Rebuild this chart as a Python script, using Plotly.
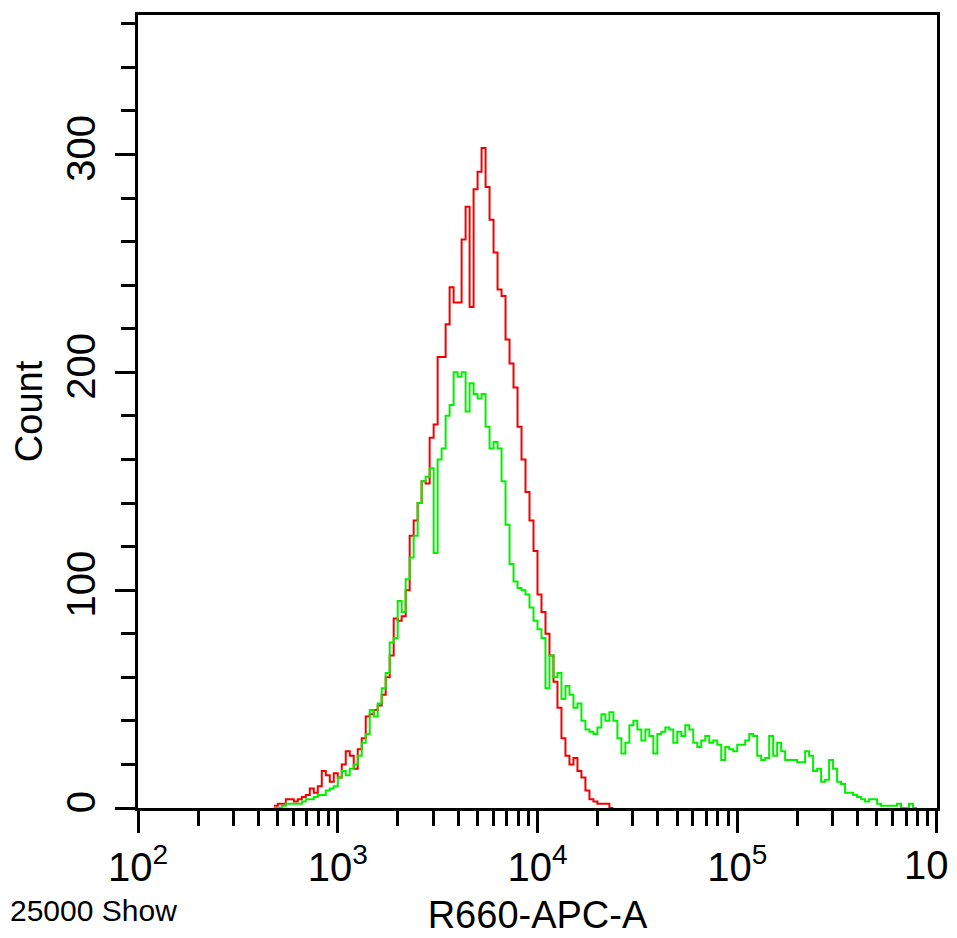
import numpy as np
import plotly.graph_objects as go

# Histogram bins: log10(intensity) of first bin's left edge, and bin width (decades)
bin_start_log = 2.68
bin_width_log = 0.02

red_counts = [1, 2, 2, 4, 4, 3, 4, 5, 6, 9, 7, 10, 17, 15, 12, 16, 14, 20, 26, 24,
              18, 27, 32, 42, 43, 45, 47, 52, 60, 70, 87, 86, 88, 100, 125, 132, 140, 150, 149, 170,
              176, 207, 207, 222, 239, 232, 232, 261, 276, 230, 284, 292, 303, 285, 270, 255, 238, 235, 215, 204,
              193, 175, 160, 145, 132, 118, 98, 90, 80, 70, 58, 46, 32, 24, 20, 23, 17, 14, 8, 4,
              3, 2, 2, 2, 0]

green_counts = [0, 0, 1, 2, 2, 2, 2, 3, 4, 4, 5, 6, 6, 8, 9, 10, 14, 17, 15, 18,
                20, 24, 30, 34, 45, 42, 48, 55, 62, 76, 78, 95, 90, 105, 115, 125, 140, 150, 152, 156,
                117, 160, 165, 180, 185, 200, 198, 200, 182, 195, 190, 188, 190, 175, 165, 168, 165, 150, 130, 112,
                104, 101, 100, 98, 92, 86, 82, 78, 55, 70, 60, 62, 50, 56, 52, 46, 48, 40, 36, 35,
                34, 37, 43, 40, 44, 40, 32, 25, 30, 38, 40, 36, 31, 36, 33, 25, 34, 35, 37, 36,
                30, 35, 33, 38, 36, 30, 28, 31, 33, 30, 31, 29, 22, 28, 27, 26, 29, 29, 31, 34,
                33, 24, 22, 23, 33, 24, 30, 26, 22, 22, 22, 21, 21, 26, 24, 17, 18, 12, 13, 22,
                18, 12, 11, 7, 7, 6, 5, 4, 3, 4, 4, 2, 1, 1, 1, 1, 2, 0, 0, 2,
                0]

x_tick_vals = [1e2, 1e3, 1e4, 1e5, 1e6]
x_tick_text = ["10<sup>2</sup>", "10<sup>3</sup>", "10<sup>4</sup>", "10<sup>5</sup>", ""]
last_tick_label = "10"   # the 10^6 label, truncated in the original
y_tick_vals = [0, 100, 200, 300]
y_tick_text = ["0", "100", "200", "300"]
x_title = "R660-APC-A"
y_title = "Count"
event_note = "25000 Show"


def step_xy(counts):
    n = len(counts)
    edges = 10 ** (bin_start_log + bin_width_log * np.arange(n + 1))
    xs = list(edges)
    ys = list(counts) + [counts[-1]]
    return xs, ys


FONT = "Liberation Sans, Arial, sans-serif"

W, H = 949, 930
ML, MR, MT, MB = 130, 20, 4, 130
PW, PH = W - ML - MR, H - MT - MB

fig = go.Figure()
rx, ry = step_xy(red_counts)
gx, gy = step_xy(green_counts)
fig.add_trace(go.Scatter(x=rx, y=ry, mode="lines", line=dict(color="#f20000", width=2, shape="hv"),
                         showlegend=False, hoverinfo="skip"))
fig.add_trace(go.Scatter(x=gx, y=gy, mode="lines", line=dict(color="#00f000", width=2, shape="hv"),
                         showlegend=False, hoverinfo="skip"))

minor_x = [m * 10 ** d for d in range(2, 6) for m in range(2, 10)]

fig.update_layout(
    width=W, height=H,
    margin=dict(l=ML, r=MR, t=MT, b=MB),
    paper_bgcolor="white", plot_bgcolor="white",
    font=dict(family=FONT, color="black"),
    xaxis=dict(
        type="log", range=[1.9999, 6.0002], showgrid=False, zeroline=False,
        showline=True, linecolor="black", linewidth=3, mirror=True,
        ticks="outside", ticklen=22, tickwidth=3, tickcolor="black",
        tickmode="array", tickvals=x_tick_vals, ticktext=x_tick_text,
        tickfont=dict(size=40, family=FONT),
        minor=dict(tickmode="array", tickvals=minor_x, ticks="outside", ticklen=15, tickwidth=3,
                   tickcolor="black", showgrid=False),
        title=dict(text=x_title, font=dict(size=38, family=FONT), standoff=14),
    ),
    yaxis=dict(
        range=[0, 364], showgrid=False, zeroline=False,
        showline=True, linecolor="black", linewidth=3, mirror=True,
        ticks="outside", ticklen=20, tickwidth=3, tickcolor="black",
        tickmode="array", tickvals=y_tick_vals, ticktext=y_tick_text, tickangle=-90,
        tickfont=dict(size=40, family=FONT), ticklabelstandoff=4,
        minor=dict(dtick=20, ticks="outside", ticklen=14, tickwidth=3, tickcolor="black", showgrid=False),
        title=dict(text=y_title, font=dict(size=38, family=FONT), standoff=6),
    ),
    annotations=[
        dict(text=event_note, x=(0 - ML) / PW, y=-(884 - (MT + PH)) / PH,
             xref="paper", yref="paper", xanchor="left", yanchor="top", showarrow=False,
             font=dict(size=30, family=FONT, color="black")),
        dict(text=last_tick_label, x=np.log10(x_tick_vals[-1]), xref="x", y=0, yref="paper",
             xanchor="right", yanchor="top", xshift=14, yshift=-33, showarrow=False,
             font=dict(size=40, family=FONT, color="black")),
    ],
)

fig.write_html("out.html")
